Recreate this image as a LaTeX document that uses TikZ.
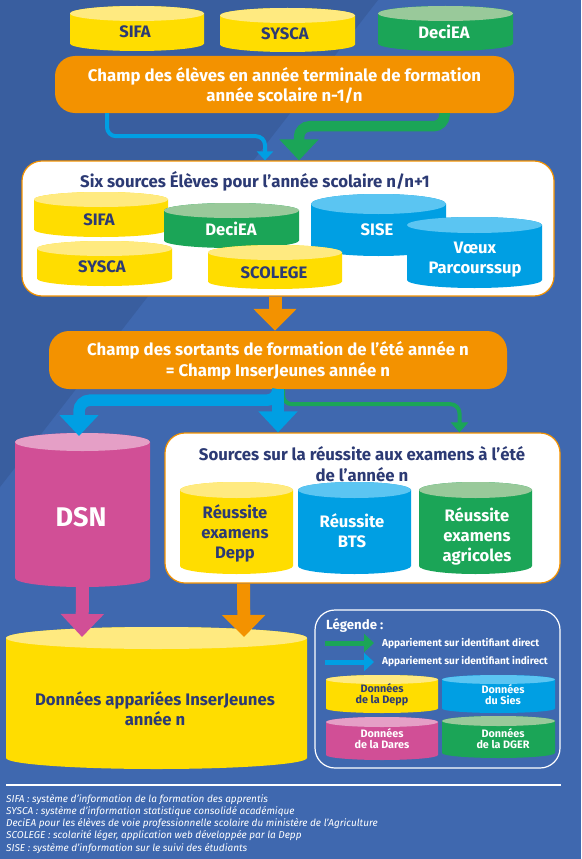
\documentclass[tikz,border=0pt]{standalone}
\usepackage{fontspec}
\setmainfont{Fira Sans}
\usetikzlibrary{arrows.meta}
\definecolor{bgblue}{HTML}{3F68AF}
\definecolor{bgdark}{HTML}{395E9F}
\definecolor{navy}{HTML}{2C3A74}
\definecolor{orangeA}{HTML}{F39200}
\definecolor{yelA}{HTML}{FFDD00}
\definecolor{yelB}{HTML}{FFEA80}
\definecolor{greA}{HTML}{1BA557}
\definecolor{greB}{HTML}{99C99A}
\definecolor{bluA}{HTML}{009FE3}
\definecolor{bluB}{HTML}{5BC5F2}
\definecolor{pinA}{HTML}{D14F96}
\definecolor{pinB}{HTML}{E59FC6}
\tikzset{
  champbox/.style={fill=orangeA,rounded corners=20pt,inner sep=0pt,align=center,text=white,font=\bfseries\fontsize{16.8}{20.5}\selectfont},
  whitebox/.style={fill=white,draw=orangeA,line width=1.2pt,rounded corners=20pt,inner sep=0pt},
  boxtitle/.style={text=navy,inner sep=0pt,align=center,font=\bfseries\fontsize{16.8}{20.5}\selectfont},
  cyltext/.style={inner sep=0pt,align=center,font=\bfseries\fontsize{16.6}{20}\selectfont},
  legtext/.style={inner sep=0pt,align=center,font=\bfseries\fontsize{10.8}{11.2}\selectfont},
  legarrow/.style={text=white,inner sep=0pt,anchor=west,font=\bfseries\fontsize{10.1}{11}\selectfont},
  note/.style={text=white,inner sep=0pt,anchor=west,font=\itshape\fontsize{10}{11}\selectfont},
  thinblue/.style={draw=bluA,line width=4pt,rounded corners=9pt,-{Triangle[length=9pt,width=16pt]}},
  thingreen/.style={draw=greA,line width=4pt,rounded corners=9pt,-{Triangle[length=10pt,width=17pt]}},
  thickgreen/.style={draw=greA,line width=10.5pt,rounded corners=11pt,-{Triangle[length=21pt,width=38pt]}},
  thickblue/.style={draw=bluA,line width=11.5pt,rounded corners=11pt,-{Triangle[length=21pt,width=38pt]}},
  thickorange/.style={draw=orangeA,line width=13pt,-{Triangle[length=22pt,width=42pt]}},
  thickpink/.style={draw=pinA,line width=13pt,-{Triangle[length=23pt,width=42pt]}},
  legblue/.style={draw=bluA,line width=5pt,-{Triangle[length=10pt,width=18pt]}},
  leggreen/.style={draw=greA,line width=5pt,-{Triangle[length=10pt,width=18pt]}},
}
\newcommand{\drum}[9]{%
  \pgfmathsetmacro{\rx}{(#3-#2)/2}%
  \pgfmathsetmacro{\xc}{(#3+#2)/2}%
  \pgfmathsetmacro{\yT}{#4+#6}%
  \pgfmathsetmacro{\yB}{#5-#6}%
  \fill[#7] (#2,\yT) -- (#2,\yB) arc[start angle=180,end angle=360,x radius=\rx pt,y radius=#6 pt] -- (#3,\yT) arc[start angle=0,end angle=180,x radius=\rx pt,y radius=#6 pt] -- cycle;
  \fill[#8] (\xc,\yT) ellipse[x radius=\rx pt,y radius=#6 pt];
  \coordinate (#1t) at (\xc,#4);
  \coordinate (#1b) at (\xc,#5);
  #9
}
\begin{document}
\begin{tikzpicture}[x=1pt,y=-1pt]
\useasboundingbox (0,0) rectangle (581,859);
\fill[bgblue] (0,0) rectangle (581,859);
\fill[bgdark] (0,0) -- (378,0) -- (0,487) -- cycle;

% top row
\drum{a1}{70}{204}{6}{51}{7.5}{yelA}{yelB}{\node[cyltext,text=navy] (n1) at (135,32) {SIFA};}
\drum{a2}{220}{355}{8}{52}{7.5}{yelA}{yelB}{\node[cyltext,text=navy] (n2) at (285,34) {SYSCA};}
\drum{a3}{378}{513}{6}{51}{7.5}{greA}{greB}{\node[cyltext,text=white] (n3) at (444,32) {DeciEA};}

\node[champbox,minimum width=459pt,minimum height=57pt] (champA) at (284.5,84.5) {\rule{0pt}{16pt}Champ des élèves en année terminale de formation\\année scolaire n-1/n};

% box 2
\node[whitebox,minimum width=532pt,minimum height=135pt] (boxB) at (288,228.5) {};
\node[boxtitle,anchor=west] (tB) at (80,181) {Six sources Élèves pour l’année scolaire n/n+1};
\drum{b1}{34}{168}{192}{237}{7.5}{yelA}{yelB}{\node[cyltext,text=navy] (n4) at (99,220) {SIFA};}
\drum{b2}{164}{299}{203}{248}{7.5}{greA}{greB}{\node[cyltext,text=white] (n5) at (231,229) {DeciEA};}
\drum{b3}{311}{446}{194}{256}{10}{bluA}{bluB}{\node[cyltext,text=white] (n6) at (377,230) {SISE};}
\drum{b4}{407}{542}{217}{288}{8}{bluA}{bluB}{\node[cyltext,text=white] (n7) at (475,259.5) {Vœux\\Parcourssup};}
\drum{b5}{37}{172}{241}{286}{7.5}{yelA}{yelB}{\node[cyltext,text=navy] (n8) at (102,267) {SYSCA};}
\drum{b6}{208}{342}{245}{289}{7.5}{yelA}{yelB}{\node[cyltext,text=navy] (n9) at (274,273) {SCOLEGE};}

% connectors A->B
\draw[thinblue] ([xshift=-177.5pt]champA.south) -- ++(0,23) -| ([xshift=-23pt]boxB.north);
\draw[thickgreen] ([xshift=160pt]champA.south) -- ++(0,13) -| ([xshift=11pt]boxB.north);

\node[champbox,minimum width=458pt,minimum height=58pt] (champC) at (278,360) {\rule{0pt}{16pt}Champ des sortants de formation de l’été année n\\= Champ InserJeunes année n};
\draw[thickorange] (boxB.south -| champC.north) ++(-3,0) -- ([xshift=-3pt]champC.north);

% DSN
\drum{dsn}{15}{150}{433}{587}{9}{pinA}{pinB}{\node[text=white,inner sep=0pt,font=\bfseries\fontsize{27}{30}\selectfont] (n10) at (81,517) {DSN};}

% box 3
\node[whitebox,minimum width=395pt,minimum height=150pt] (boxD) at (362.5,508) {};
\node[boxtitle] (tD) at (362,464) {Sources sur la réussite aux examens à l’été\\de l’année n};
\drum{d1}{180}{293}{482}{574}{8}{yelA}{yelB}{\node[cyltext,text=navy] (n11) at (235,533.5) {Réussite\\examens\\Depp};}
\drum{d2}{298}{411}{482}{574}{8}{bluA}{bluB}{\node[cyltext,text=white] (n12) at (352,531) {Réussite\\BTS};}
\drum{d3}{419}{532}{482}{574}{8}{greA}{greB}{\node[cyltext,text=white] (n13) at (477,536) {Réussite\\examens\\agricoles};}

% connectors from champC
\draw[thingreen] ([xshift=5pt]champC.south) -- ++(0,15) -| ([xshift=97pt]boxD.north);
\draw[thickblue] (champC.south) -- ++(0,11) -| ([xshift=-3.5pt,yshift=-3pt]dsnt);
\draw[thickblue,rounded corners=0pt] (champC.south) -- (boxD.north -| champC.south);

% big yellow
\drum{big}{6}{307}{627}{769}{11}{yelA}{yelB}{\node[inner sep=0pt,align=center,text=navy,font=\bfseries\fontsize{16.7}{20}\selectfont] (n14) at (155,709) {Données appariées InserJeunes\\année n};}
\draw[thickpink] (dsnb) -- ([xshift=-74.5pt,yshift=-10pt]bigt);
\draw[thickorange] ([xshift=-119pt]boxD.south) -- ([xshift=87.5pt,yshift=-10pt]bigt);

% legend
\node[draw=white,line width=1.2pt,rounded corners=20pt,inner sep=0pt,minimum width=245pt,minimum height=158pt] (leg) at (437.5,689) {};
\node[text=white,inner sep=0pt,anchor=west,font=\bfseries\fontsize{13.2}{14}\selectfont] (legT) at (326,625) {Légende :};
\node[legarrow] (lg) at (382,643.5) {Appariement sur identifiant direct};
\node[legarrow] (lb) at (382,662) {Appariement sur identifiant indirect};
\coordinate (lgs) at (325,643);
\coordinate (lbs) at (325,662);
\draw[leggreen] (lgs) -- ([xshift=-8pt,yshift=0.5pt]lg.west);
\draw[legblue] (lbs) -- ([xshift=-8pt]lb.west);
\drum{e1}{326}{438}{675}{713}{4.5}{yelA}{yelB}{\node[legtext,text=navy] (n15) at (382,694.5) {Données\\de la Depp};}
\drum{e2}{442}{555}{675}{713}{4.5}{bluA}{bluB}{\node[legtext,text=white] (n16) at (503,694.5) {Données\\du Sies};}
\drum{e3}{326}{438}{717}{760}{5}{pinA}{pinB}{\node[legtext,text=white] (n17) at (382,738.5) {Données\\de la Dares};}
\drum{e4}{442}{555}{716}{758}{5}{greA}{greB}{\node[legtext,text=white] (n18) at (503,738.5) {Données\\de la DGER};}

% footnotes
\coordinate (ruleL) at (6,785);
\coordinate (ruleR) at (561,785);
\draw[white,line width=2pt] (ruleL) -- (ruleR);
\node[note] (f1) at (6,799.5) {SIFA : système d’information de la formation des apprentis};
\node[note] (f2) at (6,812) {SYSCA : système d’information statistique consolidé académique};
\node[note] (f3) at (6,824) {DeciEA pour les élèves de voie professionnelle scolaire du ministère de l’Agriculture};
\node[note] (f4) at (6,836) {SCOLEGE : scolarité léger, application web développée par la Depp};
\node[note] (f5) at (6,849) {SISE : système d’information sur le suivi des étudiants};
\end{tikzpicture}
\end{document}
